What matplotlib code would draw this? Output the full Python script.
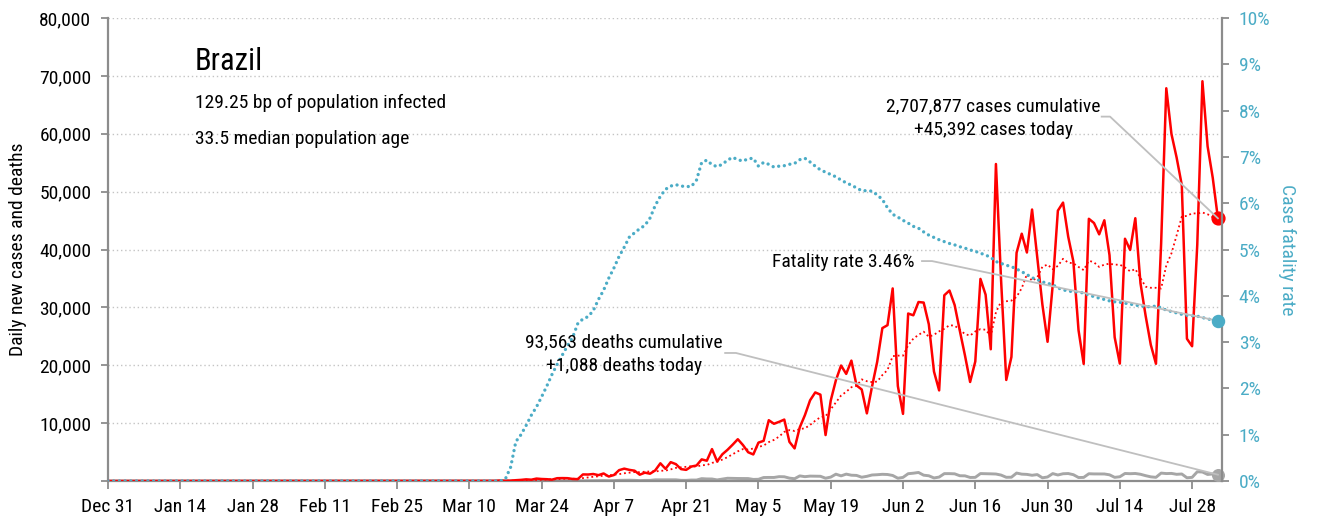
import matplotlib
matplotlib.use("Agg")
import matplotlib.pyplot as plt
import matplotlib.dates as mdates
from matplotlib import font_manager
import pandas as pd

# pick a condensed sans font if one is installed
_cands = []
for f in font_manager.fontManager.ttflist:
    st = f.stretch
    cond = (isinstance(st, str) and "condensed" in st) or (isinstance(st, (int, float)) and st < 500) \
        or "Narrow" in f.name or "Condensed" in f.name
    if cond and f.style == "normal" and f.weight in (400, "normal", "regular"):
        _cands.append(f)
_pref = ["Liberation Sans Narrow", "Roboto Condensed", "Open Sans Condensed", "Noto Sans",
         "DejaVu Sans", "Open Sans", "Roboto"]
_cands.sort(key=lambda f: _pref.index(f.name) if f.name in _pref else 99)
if _cands:
    FONT_NAME, FONT_STRETCH = _cands[0].name, _cands[0].stretch
else:
    FONT_NAME, FONT_STRETCH = "DejaVu Sans", "normal"
plt.rcParams['font.family'] = [FONT_NAME, 'DejaVu Sans']
plt.rcParams['font.stretch'] = FONT_STRETCH

# ---------------- data ----------------
country = "Brazil"
subtitle_lines = ["129.25 bp of population infected", "33.5 median population age"]

axis_start = "2019-12-31"
axis_end = "2020-08-02"

tick_labels = ["Dec 31", "Jan 14", "Jan 28", "Feb 11", "Feb 25", "Mar 10", "Mar 24",
               "Apr 7", "Apr 21", "May 5", "May 19", "Jun 2", "Jun 16", "Jun 30",
               "Jul 14", "Jul 28"]

cases_start = "2020-02-26"
daily_cases = [
    1, 0, 0, 1,
    0, 0, 0, 1, 1, 5, 6, 6, 0, 6, 9, 18, 25, 21, 23, 79, 34, 57, 137, 193,
    283, 224, 418, 345, 310, 232, 482, 502, 487, 352, 323,
    1138, 1119, 1208, 1012, 1304, 770, 1031, 1873, 2136, 1922, 1781, 1089, 1442, 1261, 1832,
    3058, 2105, 3257, 2917, 2055, 1927, 2498, 2678, 3735, 3503, 5514, 3379, 4613, 5385, 6276,
    7218, 6209, 4970, 4588, 6633, 6935, 10503, 9888, 10222, 10611,
    6760, 5632, 9258, 11385, 13944, 15305, 14919, 7938, 13900, 17408,
    19951, 18508, 20803, 16508, 15813, 11687, 16324, 20599, 26417, 26928, 33274,
    16409, 11598, 28936, 28633, 30925, 30830, 27075, 18912, 15654, 32091,
    32913, 30412, 25982, 21704, 17110, 20647, 34918, 32188, 22765, 54771,
    34666, 17459, 21432, 39436, 42725, 39483, 46907, 38693, 30476, 24052,
    33846, 46712, 48105, 42223, 37923, 26051, 20229, 45305, 44571, 42619,
    45048, 39023, 24831, 20286, 41857, 39924, 45403, 34177, 28532, 23529,
    20257, 41008, 67860, 59961, 55891, 51147, 24578, 23284, 40816, 69074, 57837,
    52383, 45392,
]

deaths_start = "2020-03-18"
daily_deaths = [
    1, 3, 3, 11, 7, 9, 12, 11, 20, 15, 22, 22, 22, 23,
    42, 40, 58, 60, 73, 54, 67, 114, 133, 141, 115, 68, 99, 105, 204, 204, 188, 217, 206, 115,
    113, 166, 165, 407, 357, 346, 189, 338, 474, 449,
    435, 428, 421, 275, 296, 600, 615, 610, 751, 730, 496, 396, 881, 749, 844, 824, 816, 485,
    674, 1179, 888, 1188, 1001, 965, 653, 807, 1039, 1086, 1156, 1124, 956,
    480, 623, 1262, 1349, 1473, 1005, 904, 525, 679, 1272, 1274, 1239, 909, 892, 612, 627,
    1282, 1269, 1238, 1206, 1022, 641, 654, 1374, 1185, 1141, 990, 1109, 552, 692,
    1280, 1038, 1252, 1290, 1091, 602, 620, 1254, 1223, 1220, 1214, 1071, 631, 733, 1300,
    1261, 1299, 1163, 921, 716, 632, 1367, 1284, 1311, 1156, 1211, 555, 627, 1595, 1554, 1129,
    1212, 1088,
]

cfr_start = "2020-03-16"
cfr_pct = [
    0.0, 0.05, 0.3, 0.85, 1.0, 1.2, 1.42, 1.6, 1.82, 2.05,
    2.3, 2.52, 2.72, 2.92, 3.1, 3.4, 3.5, 3.55, 3.68, 3.92,
    4.12, 4.38, 4.6, 4.85, 5.05, 5.27, 5.36, 5.45, 5.52, 5.68,
    5.95, 6.15, 6.3, 6.37, 6.4, 6.37, 6.36, 6.36, 6.5, 6.88,
    6.93, 6.83, 6.79, 6.84, 6.93, 6.99, 6.94, 6.91, 6.96, 6.97,
    6.8, 6.88, 6.84, 6.78, 6.8, 6.81, 6.84, 6.86, 6.94, 6.97,
    6.89, 6.8, 6.72, 6.67, 6.62, 6.57, 6.5, 6.44, 6.39, 6.33,
    6.27, 6.27, 6.26, 6.18, 6.08, 5.9, 5.76, 5.7, 5.63, 5.57,
    5.5, 5.46, 5.38, 5.31, 5.26, 5.21, 5.17, 5.13, 5.1, 5.06,
    5.03, 4.99, 4.96, 4.92, 4.88, 4.83, 4.74, 4.7, 4.66, 4.63,
    4.58, 4.52, 4.46, 4.39, 4.35, 4.3, 4.27, 4.24, 4.17, 4.13,
    4.1, 4.09, 4.08, 4.06, 4.02, 3.98, 3.95, 3.92, 3.89, 3.87,
    3.86, 3.84, 3.82, 3.8, 3.78, 3.77, 3.76, 3.78, 3.74, 3.69,
    3.66, 3.63, 3.6, 3.58, 3.57, 3.56, 3.53, 3.5, 3.48, 3.46,
]

cases_note = "2,707,877 cases cumulative\n+45,392 cases today"
cfr_note = "Fatality rate 3.46%"
deaths_note = "93,563 deaths cumulative\n+1,088 deaths today"

left_ticks = [0, 10000, 20000, 30000, 40000, 50000, 60000, 70000, 80000]
right_ticks = [0, 1, 2, 3, 4, 5, 6, 7, 8, 9, 10]

# ---------------- series ----------------
dates = pd.date_range(axis_start, axis_end, freq="D")
cases = pd.Series(daily_cases, index=pd.date_range(cases_start, periods=len(daily_cases))).reindex(dates, fill_value=0)
deaths = pd.Series(daily_deaths, index=pd.date_range(deaths_start, periods=len(daily_deaths))).reindex(dates, fill_value=0)
cfr = pd.Series(cfr_pct, index=pd.date_range(cfr_start, periods=len(cfr_pct))).reindex(dates, fill_value=0)
avg7 = cases.rolling(7, min_periods=1).mean()

RED = "#ff0000"
BLUE = "#4bacc6"
GRAY = "#a6a6a6"
SPINE = "#8c8c8c"
CONN = "#bfbfbf"

narrow = FONT_NAME != "DejaVu Sans" or FONT_STRETCH != "normal"
FS = 14 if narrow else 12.5
FS_T = 22 if narrow else 19

W, H = 1317, 520
fig = plt.figure(figsize=(W / 100, H / 100), dpi=100)
ax = fig.add_axes([108 / W, 1 - 481 / H, 1114 / W, 463 / H])
ax2 = ax.twinx()

ax.plot(dates, deaths, color=GRAY, lw=2.1, zorder=2)
ax.plot(dates, avg7, color=RED, lw=1.3, ls=(0, (1, 1.6)), zorder=3)
ax.plot(dates, cases, color=RED, lw=1.8, zorder=4)
ax2.plot(dates, cfr / 100, color=BLUE, lw=2.4, ls=(0, (0.01, 1.7)), dash_capstyle="round", zorder=3)

# end markers
ax.scatter([dates[-1]], [cases.iloc[-1]], s=85, color=RED, zorder=6, clip_on=False)
ax.scatter([dates[-1]], [deaths.iloc[-1]], s=70, color=GRAY, zorder=6, clip_on=False)
ax2.scatter([dates[-1]], [cfr.iloc[-1] / 100], s=75, color=BLUE, zorder=6, clip_on=False)

# axes limits / ticks
ax.set_xlim(pd.Timestamp(axis_start), pd.Timestamp(axis_end) + pd.Timedelta(hours=19))
ax.set_ylim(0, 80000)
ax2.set_ylim(0, 0.10)

tick_dates = pd.date_range(axis_start, periods=len(tick_labels), freq="14D")
ax.set_xticks(tick_dates)
ax.set_xticklabels(tick_labels)
ax.set_yticks(left_ticks)
ax.set_yticklabels(["" if v == 0 else f"{v:,}" for v in left_ticks])
ax2.set_yticks([v / 100 for v in right_ticks])
ax2.set_yticklabels([f"{v}%" for v in right_ticks])

ax.yaxis.grid(True, linestyle=(0, (1, 2)), color="#c4c4c4", lw=1.0)
ax.set_axisbelow(True)

for a in (ax, ax2):
    a.spines["top"].set_visible(False)
ax.spines["right"].set_visible(False)
ax2.spines["left"].set_visible(False)
ax2.spines["bottom"].set_visible(False)
for s in ("left", "bottom"):
    ax.spines[s].set_color(SPINE)
    ax.spines[s].set_linewidth(1.6)
ax2.spines["right"].set_color(SPINE)
ax2.spines["right"].set_linewidth(1.6)

ax.tick_params(axis="x", length=6, width=1.3, color=SPINE, labelsize=FS, pad=6)
ax.tick_params(axis="y", length=5, width=1.3, color=SPINE, labelsize=FS, pad=7)
ax2.tick_params(axis="y", length=5, width=1.3, color=SPINE, labelsize=FS, pad=7, labelcolor=BLUE)

ax.set_ylabel("Daily new cases and deaths", fontsize=FS)
ax.yaxis.set_label_coords((27 - 108) / 1114, 0.5)
ax2.set_ylabel("Case fatality rate", fontsize=FS, color=BLUE, rotation=270, va="center")
ax2.yaxis.set_label_coords((1287 - 108) / 1114, 0.5)

# title block
ax.text(0.078, 0.905, country, transform=ax.transAxes, fontsize=FS_T, va="center", ha="left")
ax.text(0.078, 0.816, subtitle_lines[0], transform=ax.transAxes, fontsize=FS, va="center", ha="left")
ax.text(0.078, 0.739, subtitle_lines[1], transform=ax.transAxes, fontsize=FS, va="center", ha="left")

# annotations
fig.canvas.draw()

def to_axes(a, x, y):
    disp = a.transData.transform((mdates.date2num(x), y))
    return ax2.transAxes.inverted().transform(disp)

def connector(x0, x1, yy, a, px, py):
    tx, ty = to_axes(a, px, py)
    ax2.plot([x0, x1, tx], [yy, yy, ty], transform=ax2.transAxes, color=CONN, lw=1.3,
             zorder=5, clip_on=False)

ax2.text(0.795, 0.783, cases_note, transform=ax2.transAxes, fontsize=FS, ha="center",
         va="center", linespacing=1.4, zorder=7)
connector(0.892, 0.8995, 0.787, ax, dates[-1], cases.iloc[-1])

ax2.text(0.7244, 0.473, cfr_note, transform=ax2.transAxes, fontsize=FS, ha="right",
         va="center", zorder=7)
connector(0.7307, 0.7397, 0.475, ax2, dates[-1], cfr.iloc[-1] / 100)

ax2.text(0.463, 0.2745, deaths_note, transform=ax2.transAxes, fontsize=FS, ha="center",
         va="center", linespacing=1.4, zorder=7)
connector(0.554, 0.5637, 0.2765, ax, dates[-1], deaths.iloc[-1])

fig.savefig("out.png", dpi=100)
